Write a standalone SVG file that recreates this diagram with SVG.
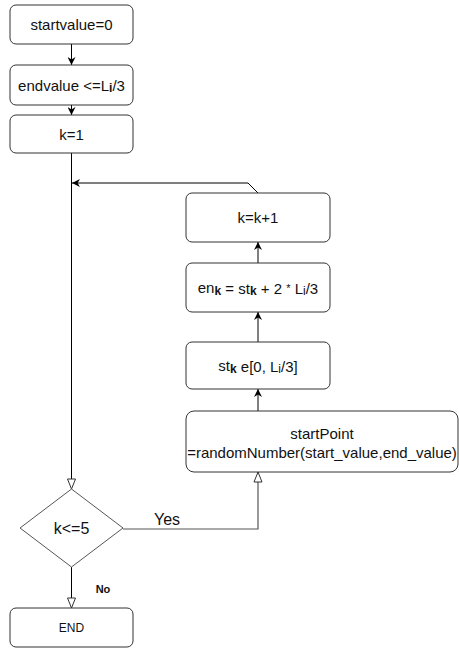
<svg xmlns="http://www.w3.org/2000/svg" width="459" height="650" viewBox="0 0 459 650">
<defs>
<marker id="arrow" viewBox="0 0 10 10" refX="10" refY="5" markerWidth="8" markerHeight="8" orient="auto" markerUnits="userSpaceOnUse">
<path d="M0,0 L10,5 L0,10 L3,5 Z" fill="#000"/>
</marker>
<marker id="open" viewBox="0 0 12 10" refX="11" refY="5" markerWidth="12" markerHeight="10" orient="auto" markerUnits="userSpaceOnUse">
<path d="M1,1 L11,5 L1,9 Z" fill="#fff" stroke="#333" stroke-width="1"/>
</marker>
</defs>
<style>
.box{fill:#fff;stroke:#333;stroke-width:1}
.dia{fill:#fff;stroke:#555;stroke-width:1}
text{font-family:"Liberation Sans",Arial,sans-serif;font-size:15px;fill:#111;text-anchor:middle;dominant-baseline:central}
.sub{font-size:12px}
.conn{fill:none;stroke:#000;stroke-width:1}
.conn2{fill:none;stroke:#555;stroke-width:1.2}
</style>
<rect width="459" height="650" fill="#fff"/>
<g id="connectors">
<path class="conn" d="M71.5,44 V65" marker-end="url(#arrow)"/>
<path class="conn" d="M71.5,105 V115" marker-end="url(#arrow)"/>
<path class="conn" d="M71.5,153 V489" marker-end="url(#open)"/>
<path class="conn" d="M258,193 L248,183 H72" marker-end="url(#arrow)"/>
<path class="conn" d="M258,263 V242" marker-end="url(#arrow)"/>
<path class="conn" d="M258,342 V312" marker-end="url(#arrow)"/>
<path class="conn" d="M258,411 V389" marker-end="url(#arrow)"/>
<path class="conn2" d="M123,529 H258 V472" marker-end="url(#open)"/>
<path class="conn" d="M71.5,567 V608" marker-end="url(#open)"/>
<text x="167" y="519" style="font-size:16px">Yes</text>
<text x="103" y="589" style="font-size:11px;font-weight:bold">No</text>
</g>
<g id="n1"><rect class="box" x="10" y="5" width="123" height="39" rx="6"/><text x="71.5" y="24.5">startvalue=0</text></g>
<g id="n2"><rect class="box" x="10" y="65" width="123" height="40" rx="6"/><text x="71.5" y="85">endvalue &lt;=L<tspan class="sub" font-weight="bold" dy="3">i</tspan><tspan dy="-3">/3</tspan></text></g>
<g id="n3"><rect class="box" x="10" y="115" width="123" height="38" rx="6"/><text x="71.5" y="134">k=1</text></g>
<g id="n4"><rect class="box" x="186" y="193" width="144" height="49" rx="6"/><text x="258" y="217.5">k=k+1</text></g>
<g id="n5"><rect class="box" x="186" y="263" width="144" height="49" rx="6"/><text x="258" y="287.5">en<tspan class="sub" font-weight="bold" dy="3">k</tspan><tspan dy="-3"> = st</tspan><tspan class="sub" font-weight="bold" dy="3">k</tspan><tspan dy="-3"> + 2 </tspan><tspan font-size="11">*</tspan><tspan> L</tspan><tspan class="sub" dy="3">i</tspan><tspan dy="-3">/3</tspan></text></g>
<g id="n6"><rect class="box" x="186" y="342" width="144" height="47" rx="6"/><text x="258" y="365.5">st<tspan class="sub" font-weight="bold" dy="3">k</tspan><tspan dy="-3"> e[0, L</tspan><tspan class="sub" dy="3">i</tspan><tspan dy="-3">/3]</tspan></text></g>
<g id="n7"><rect class="box" x="186" y="411" width="272" height="61" rx="8"/><text x="322" y="433">startPoint</text><text x="322" y="452">=randomNumber(start_value,end_value)</text></g>
<g id="n8"><path class="dia" d="M71.5,489 L123,528 L71.5,567 L20,528 Z"/><text x="71.5" y="528" style="font-size:16px">k&lt;=5</text></g>
<g id="n9"><rect class="box" x="10" y="608" width="123" height="39" rx="6"/><text x="71.5" y="627.5" style="font-size:12px">END</text></g>
</svg>
